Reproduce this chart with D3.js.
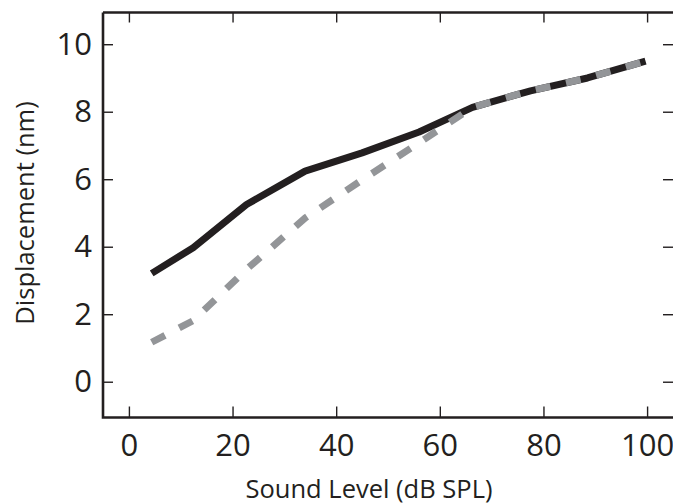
<!DOCTYPE html>
<html>
<head>
<meta charset="utf-8">
<script src="https://cdn.jsdelivr.net/npm/d3@7"></script>
<style>
  body { margin: 0; background: #fff; }
  svg { display: block; }
  .axis text { font-family: "Open Sans", sans-serif; fill: #231f20; }
  .title { font-family: "Open Sans", sans-serif; fill: #231f20; }
</style>
</head>
<body>
<svg width="673" height="504"></svg>
<script>
// sound level (dB SPL) and displacement (nm)
const levels = [4.4, 12.4, 22.7, 34, 45, 56, 66.3, 77.5, 88.5, 99.7];
const solidValues = [3.21, 3.97, 5.25, 6.24, 6.78, 7.4, 8.13, 8.62, 9.0, 9.5];
const dashedValues = [1.17, 1.81, 3.33, 4.85, 5.98, 7.08, 8.13, 8.62, 9.0, 9.5];
const xTicks = [0, 20, 40, 60, 80, 100];
const yTicks = [0, 2, 4, 6, 8, 10];

const svg = d3.select('svg'),
  width = +svg.attr('width'),
  height = +svg.attr('height');

const plotLeft = 103, plotRight = 673, plotTop = 12.5, plotBottom = 417.5;

const x = d3.scaleLinear().domain([-5, 105]).range([plotLeft, plotRight]);
const y = d3.scaleLinear().domain([-1.06, 10.94]).range([plotBottom, plotTop]);

const ink = '#231f20';

// axes with inward ticks on all four sides
svg.append('g')
  .attr('class', 'axis')
  .attr('transform', `translate(0,${plotBottom})`)
  .call(d3.axisBottom(x).tickValues(xTicks).tickSize(-11).tickPadding(16))
  .call(g => g.selectAll('text').attr('font-size', 31));

svg.append('g')
  .attr('transform', `translate(0,${plotTop})`)
  .call(d3.axisTop(x).tickValues(xTicks).tickSize(-10).tickFormat(''));

svg.append('g')
  .attr('class', 'axis')
  .attr('transform', `translate(${plotLeft},0)`)
  .call(d3.axisLeft(y).tickValues(yTicks).tickSize(-10).tickPadding(11))
  .call(g => g.selectAll('text').attr('font-size', 31));

svg.append('g')
  .attr('transform', `translate(${plotRight},0)`)
  .call(d3.axisRight(y).tickValues(yTicks).tickSize(-10).tickFormat(''));

svg.selectAll('.domain').remove();
svg.selectAll('.tick line').attr('stroke', ink).attr('stroke-width', 1.4);

svg.append('path')
  .attr('d', `M${plotLeft},${plotTop}H${plotRight}M${plotLeft},${plotTop}V${plotBottom}H${plotRight}`)
  .attr('fill', 'none')
  .attr('stroke', ink)
  .attr('stroke-width', 2.6);

const line = d3.line()
  .x((d, i) => x(levels[i]))
  .y(d => y(d));

svg.append('path')
  .datum(solidValues)
  .attr('d', line)
  .attr('fill', 'none')
  .attr('stroke', ink)
  .attr('stroke-width', 7)
  .attr('stroke-linejoin', 'round');

svg.append('path')
  .datum(dashedValues)
  .attr('d', line)
  .attr('fill', 'none')
  .attr('stroke', '#939598')
  .attr('stroke-width', 7)
  .attr('stroke-dasharray', '15,16');

svg.append('text')
  .attr('class', 'title')
  .attr('x', 369)
  .attr('y', 498)
  .attr('text-anchor', 'middle')
  .attr('font-size', 25.5)
  .text('Sound Level (dB SPL)');

svg.append('text')
  .attr('class', 'title')
  .attr('transform', `translate(34,${y(5)}) rotate(-90)`)
  .attr('text-anchor', 'middle')
  .attr('font-size', 25.5)
  .text('Displacement (nm)');
</script>
</body>
</html>
